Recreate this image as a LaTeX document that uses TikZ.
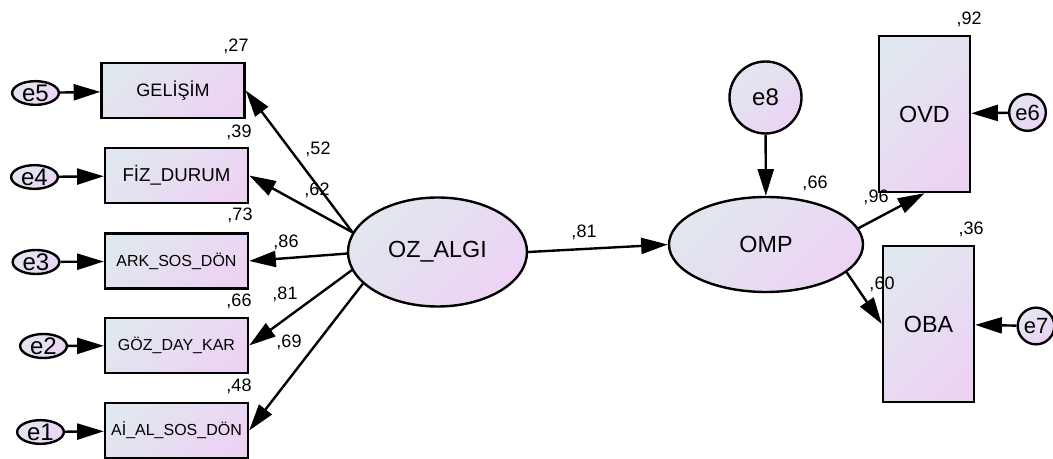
\documentclass[tikz,border=0pt]{standalone}
\usepackage{fontspec}
\setmainfont{Liberation Sans}
\usetikzlibrary{arrows.meta,shapes.geometric}
\definecolor{shadeA}{RGB}{225,231,238}
\definecolor{shadeB}{RGB}{236,211,244}

\begin{document}
\begin{tikzpicture}[x=0.75pt,y=-0.75pt,
  filled/.style={draw=black, line width=1.8pt, left color=shadeA, right color=shadeB,
                 shading angle=45, inner sep=0pt},
  obs/.style={filled, rectangle, minimum width=107.25pt, minimum height=41.25pt},
  tallobs/.style={filled, rectangle, minimum width=68.25pt, minimum height=117pt,
                  font=\fontsize{17.5}{20}\selectfont},
  latent/.style={filled, ellipse, font=\fontsize{17.5}{20}\selectfont},
  err/.style={filled, ellipse, minimum width=35pt, minimum height=15pt,
              font=\fontsize{18}{20}\selectfont},
  errc/.style={filled, circle, minimum size=27.5pt, font=\fontsize{16.5}{18}\selectfont},
  link/.style={line width=1.8pt, -{Triangle[length=20pt,width=12pt]}},
  coef/.style={font=\fontsize{13.5}{15}\selectfont, inner sep=0pt}
]
\useasboundingbox (0,0) rectangle (1053,459);

% observed indicators of OZ_ALGI
\node[obs, font=\fontsize{13.5}{16}\selectfont] (gel) at (173,90.5) {GELİŞİM};
\node[obs, font=\fontsize{14}{16}\selectfont] (fiz) at (176.5,175.5) {FİZ\_DURUM};
\node[obs, font=\fontsize{12}{14}\selectfont] (ark) at (176.5,261) {ARK\_SOS\_DÖN};
\node[obs, font=\fontsize{12}{14}\selectfont] (goz) at (176.5,345.5) {GÖZ\_DAY\_KAR};
\node[obs, font=\fontsize{12}{14}\selectfont] (ai) at (176.5,430.5) {Aİ\_AL\_SOS\_DÖN};

% error terms on the left
\node[err] (e5) at (35.5,93) {e5};
\node[err] (e4) at (34.5,177) {e4};
\node[err] (e3) at (36,262) {e3};
\node[err] (e2) at (43.5,346) {e2};
\node[err] (e1) at (40.5,432) {e1};

% latent variables
\node[latent, minimum width=134.25pt, minimum height=81.75pt] (oz) at (437.5,252) {OZ\_ALGI};
\node[latent, minimum width=145.5pt, minimum height=71.25pt] (omp) at (766,244.5) {OMP};
\node[filled, circle, minimum size=54pt, font=\fontsize{18}{20}\selectfont] (e8) at (765.5,97.5) {e8};

% outcome indicators
\node[tallobs] (ovd) at (924.5,114) {OVD};
\node[tallobs] (oba) at (928.5,324) {OBA};
\node[errc] (e6) at (1027.5,112.5) {e6};
\node[errc] (e7) at (1036,326) {e7};

% error paths
\draw[link] (e5) -- (gel);
\draw[link] (e4) -- (fiz);
\draw[link] (e3) -- (ark);
\draw[link] (e2) -- (goz);
\draw[link] (e1) -- (ai);
\draw[link] (e8) -- (omp);
\draw[link] (e6) -- (ovd);
\draw[link] (e7) -- (oba);

% loadings and structural paths
\draw[link] (oz.167) -- (gel.east);
\draw[link] (oz.167) -- (fiz.east);
\draw[link] (oz.181) -- (ark.east);
\draw[link] (oz.192) -- (goz.east);
\draw[link] (oz.203) -- (ai.east);
\draw[link] (oz.east) -- (omp.west);
\draw[link] (omp.10) -- (ovd.south);
\draw[link] (omp.-19) -- (oba.west);

% squared multiple correlations
\node[coef] (r27) at (236,46) {,27};
\node[coef] (r39) at (239,132) {,39};
\node[coef] (r73) at (240,215) {,73};
\node[coef] (r66a) at (239,301) {,66};
\node[coef] (r48) at (239,386) {,48};
\node[coef] (r66b) at (815,183) {,66};
\node[coef] (r92) at (969,19) {,92};
\node[coef] (r36) at (971,229) {,36};

% standardized weights
\node[coef] (w52) at (318,149) {,52};
\node[coef] (w62) at (317,190) {,62};
\node[coef] (w86) at (286,242) {,86};
\node[coef] (w81a) at (285,294) {,81};
\node[coef] (w69) at (289,342) {,69};
\node[coef] (w81b) at (584,232) {,81};
\node[coef] (w96) at (876,197) {,96};
\node[coef] (w60) at (882,284) {,60};
\end{tikzpicture}
\end{document}
